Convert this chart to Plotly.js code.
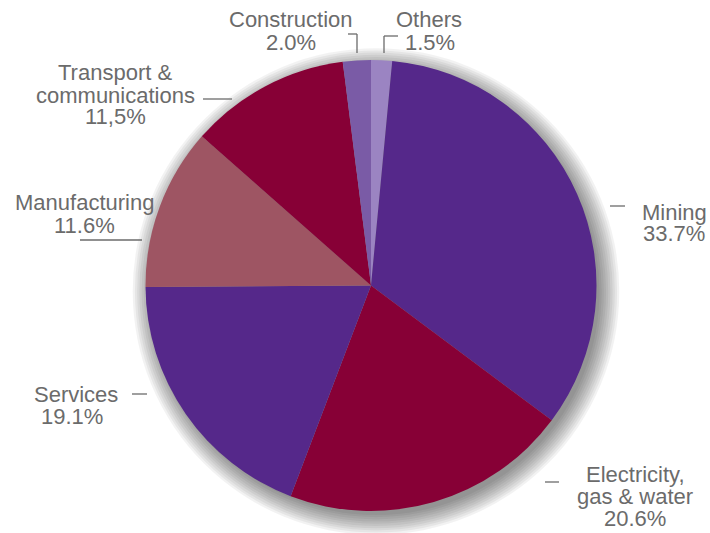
<!DOCTYPE html>
<html><head><meta charset="utf-8">
<script src="https://cdn.plot.ly/plotly-3.0.1.min.js"></script>
<style>html,body{margin:0;padding:0;background:#fff}#chart{width:710px;height:533px}</style>
</head><body><div id="chart"></div>
<script>
// Data (clockwise from 12 o'clock)
const sectors = ["Others", "Mining", "Electricity, gas & water", "Services", "Manufacturing", "Transport & communications", "Construction"];
const shares = [1.5, 33.7, 20.6, 19.1, 11.6, 11.5, 2.0];
const shareText = ["1.5%", "33.7%", "20.6%", "19.1%", "11.6%", "11,5%", "2.0%"];
const nameLines = [["Others"], ["Mining"], ["Electricity,", "gas & water"], ["Services"], ["Manufacturing"], ["Transport &", "communications"], ["Construction"]];
const sliceColors = ["#9b84c2", "#55288a", "#870036", "#55288a", "#9e5563", "#870036", "#7a5ba6"];

const W = 710, H = 533;
const px = x => x / W, py = y => 1 - y / H;
const cx = 371, cy = 285.5, R = 225.5;

// label placement (pixel centers of first line), line step
const labelPos = [
  {x: 429, y: 20, step: 22, lastX: 430},
  {x: 674, y: 212, step: 22},
  {x: 635, y: 474, step: 22},
  {x: 76, y: 394, step: 22, lastX: 72},
  {x: 84, y: 202, step: 23},
  {x: 115, y: 73, step: 22},
  {x: 291, y: 20, step: 22}
];
const leaders = [
  [[384, 53], [384, 36], [398, 36]],
  [[610, 206], [625, 206]],
  [[545, 482], [559, 482]],
  [[132, 394], [147, 394]],
  [[80, 240], [142, 240]],
  [[203, 99], [232, 99]],
  [[348, 34], [357, 34], [357, 53]]
];

const font = {family: "Liberation Sans, Arial, Helvetica, sans-serif", size: 22, color: "#6b6b6b"};
const annotations = [];
sectors.forEach((s, i) => {
  const p = labelPos[i];
  const lines = nameLines[i].concat([shareText[i]]);
  lines.forEach((t, j) => {
    const x = (j === lines.length - 1 && p.lastX) ? p.lastX : p.x;
    annotations.push({text: t, x: px(x), y: py(p.y + j * p.step), xref: "paper", yref: "paper",
      xanchor: "center", yanchor: "middle", showarrow: false, font: font});
  });
});

const shapes = [];
// soft drop shadow, offset down-right
for (let k = 0; k < 10; k++) {
  const r = R - 2 + k * 2.2, ox = 5, oy = 6;
  shapes.push({type: "circle", xref: "paper", yref: "paper", layer: "below",
    x0: px(cx + ox - r), x1: px(cx + ox + r), y0: py(cy + oy + r), y1: py(cy + oy - r),
    fillcolor: "rgba(0,0,0,0.05)", line: {width: 0}});
}
leaders.forEach(pts => {
  for (let k = 0; k < pts.length - 1; k++) {
    shapes.push({type: "line", xref: "paper", yref: "paper",
      x0: px(pts[k][0]), y0: py(pts[k][1]), x1: px(pts[k + 1][0]), y1: py(pts[k + 1][1]),
      line: {color: "#6b6b6b", width: 1.3}});
  }
});

const trace = {
  type: "pie", labels: sectors, values: shares, sort: false, direction: "clockwise", rotation: 0,
  marker: {colors: sliceColors, line: {width: 0}}, textinfo: "none", hoverinfo: "none",
  domain: {x: [px(cx - R), px(cx + R)], y: [py(cy + R), py(cy - R)]}
};

Plotly.newPlot("chart", [trace], {
  width: W, height: H, margin: {l: 0, r: 0, t: 0, b: 0}, showlegend: false,
  paper_bgcolor: "#ffffff", annotations: annotations, shapes: shapes
}, {staticPlot: true});
</script></body></html>
